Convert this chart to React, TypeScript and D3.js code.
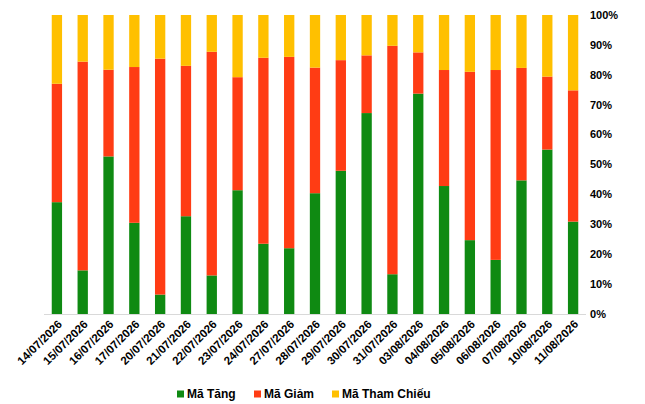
import * as d3 from "d3";

const DATES = [
  "14/07/2026", "15/07/2026", "16/07/2026", "17/07/2026", "20/07/2026",
  "21/07/2026", "22/07/2026", "23/07/2026", "24/07/2026", "27/07/2026",
  "28/07/2026", "29/07/2026", "30/07/2026", "31/07/2026", "03/08/2026",
  "04/08/2026", "05/08/2026", "06/08/2026", "07/08/2026", "10/08/2026",
  "11/08/2026",
];

// percent of codes per session
const TANG = [37.4, 14.6, 52.7, 30.5, 6.5, 32.7, 12.9, 41.4, 23.5, 22.0, 40.4, 47.9, 67.2, 13.3, 73.7, 42.8, 24.7, 18.1, 44.7, 55.0, 30.9];
const GIAM = [39.6, 69.8, 29.0, 52.1, 78.9, 50.3, 74.8, 37.8, 62.2, 64.0, 42.0, 37.0, 19.3, 76.4, 13.8, 38.8, 56.3, 63.5, 37.6, 24.4, 43.9];
const THAM_CHIEU = [23.0, 15.6, 18.3, 17.4, 14.6, 17.0, 12.3, 20.8, 14.3, 14.0, 17.6, 15.1, 13.5, 10.3, 12.5, 18.4, 19.0, 18.4, 17.7, 20.6, 25.2];

const Y_TICKS = [0, 10, 20, 30, 40, 50, 60, 70, 80, 90, 100];

const KEYS = ["tang", "giam", "tham"] as const;
const NAMES: Record<string, string> = { tang: "Mã Tăng", giam: "Mã Giảm", tham: "Mã Tham Chiếu" };
const COLORS: Record<string, string> = { tang: "#0f8a12", giam: "#ff3c14", tham: "#ffc000" };

type Row = { date: string; tang: number; giam: number; tham: number };

const rows: Row[] = DATES.map((date, i) => ({ date, tang: TANG[i], giam: GIAM[i], tham: THAM_CHIEU[i] }));

export default function App() {
  const width = 645;
  const height = 404;
  const margin = { top: 15, right: 59, bottom: 90, left: 44 };
  const innerW = width - margin.left - margin.right;
  const innerH = height - margin.top - margin.bottom;

  const x = d3.scaleBand<string>().domain(DATES).range([0, innerW]).paddingInner(0.6).paddingOuter(0.3);
  const y = d3.scaleLinear().domain([0, 100]).range([innerH, 0]);
  const series = d3.stack<Row>().keys(KEYS as unknown as string[])(rows);

  const font = "'Liberation Sans', Arial, sans-serif";
  const legendX = [177, 254, 332];

  return (
    <div style={{ position: "absolute", left: 0, top: 0 }}>
      <svg width={width} height={height} style={{ display: "block", background: "#fff" }}>
        <g transform={`translate(${margin.left},${margin.top})`}>
          {series.map((s) => (
            <g key={s.key} fill={COLORS[s.key]}>
              {s.map((d, i) => (
                <rect
                  key={i}
                  x={x(d.data.date)}
                  y={y(d[1])}
                  width={x.bandwidth()}
                  height={y(d[0]) - y(d[1])}
                />
              ))}
            </g>
          ))}
          <line x1={0} x2={innerW} y1={innerH + 0.5} y2={innerH + 0.5} stroke="#d9d9d9" />
          {Y_TICKS.map((t) => (
            <text
              key={t}
              x={innerW + 4}
              y={y(t)}
              dy="0.35em"
              fontFamily={font}
              fontWeight="bold"
              fontSize={11}
              fill="#000"
            >
              {t}%
            </text>
          ))}
          {DATES.map((d) => {
            const cx = (x(d) ?? 0) + x.bandwidth() / 2 + 3;
            const cy = innerH + 8;
            return (
              <text
                key={d}
                transform={`translate(${cx},${cy}) rotate(-45)`}
                textAnchor="end"
                dy="0.35em"
                fontFamily={font}
                fontWeight="bold"
                fontSize={11.5}
                fill="#000"
              >
                {d}
              </text>
            );
          })}
        </g>
        {KEYS.map((k, i) => (
          <g key={k} transform={`translate(${legendX[i]},394)`}>
            <rect x={0} y={-3.5} width={7} height={7} fill={COLORS[k]} />
            <text x={10} dy="0.35em" fontFamily={font} fontWeight="bold" fontSize={12} fill="#000">
              {NAMES[k]}
            </text>
          </g>
        ))}
      </svg>
    </div>
  );
}
